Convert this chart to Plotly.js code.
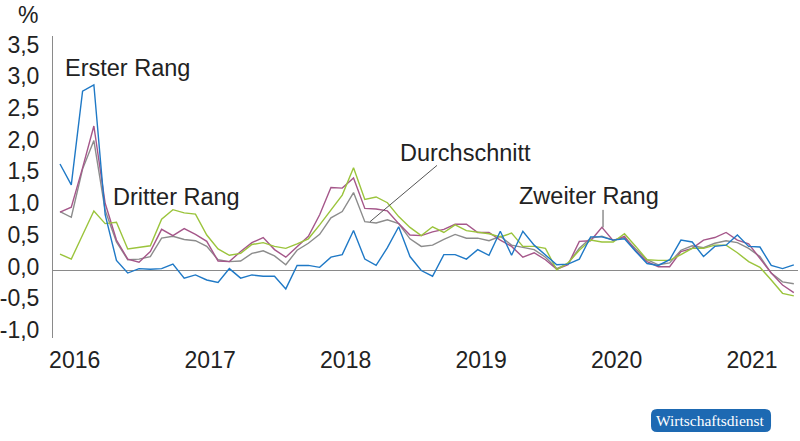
<!DOCTYPE html>
<html>
<head>
<meta charset="utf-8">
<script src="https://cdn.plot.ly/plotly-3.0.1.min.js"></script>
<style>
  html, body { margin: 0; padding: 0; background: #fff; }
  #plot { width: 800px; height: 441px; }
</style>
</head>
<body>
<div id="plot"></div>
<script>
// monthly values, Jan 2016 .. Jun 2021, in %
var monthIndex = [];
for (var i = 0; i < 66; i++) monthIndex.push(i);

var ersterRang = [1.68, 1.35, 2.83, 2.93, 0.88, 0.16, -0.04, 0.03, 0.02, 0.03, 0.10, -0.12,
  -0.07, -0.15, -0.19, 0.03, -0.12, -0.07, -0.09, -0.09, -0.29, 0.08, 0.08, 0.05,
  0.21, 0.25, 0.63, 0.18, 0.08, 0.36, 0.69, 0.22, 0.00, -0.09, 0.25, 0.25,
  0.18, 0.33, 0.24, 0.62, 0.24, 0.62, 0.40, 0.24, 0.09, 0.10, 0.18, 0.53,
  0.53, 0.48, 0.50, 0.30, 0.11, 0.08, 0.17, 0.48, 0.45, 0.22, 0.38, 0.40,
  0.56, 0.38, 0.37, 0.08, 0.03, 0.09];

var zweiterRang = [0.92, 1.00, 1.62, 2.28, 1.06, 0.48, 0.18, 0.13, 0.30, 0.65, 0.55, 0.66,
  0.57, 0.46, 0.15, 0.14, 0.30, 0.44, 0.52, 0.33, 0.21, 0.37, 0.54, 0.88,
  1.31, 1.30, 1.46, 0.98, 0.97, 0.94, 0.74, 0.56, 0.55, 0.61, 0.65, 0.73,
  0.73, 0.60, 0.60, 0.48, 0.38, 0.21, 0.28, 0.17, 0.02, 0.09, 0.46, 0.47,
  0.68, 0.47, 0.54, 0.31, 0.14, 0.06, 0.06, 0.30, 0.35, 0.48, 0.52, 0.60,
  0.48, 0.42, 0.19, -0.04, -0.23, -0.35];

var dritterRang = [0.26, 0.18, 0.56, 0.94, 0.74, 0.76, 0.34, 0.37, 0.39, 0.81, 0.96, 0.91,
  0.89, 0.56, 0.34, 0.24, 0.27, 0.41, 0.44, 0.38, 0.35, 0.42, 0.50, 0.72,
  0.96, 1.19, 1.62, 1.12, 1.16, 1.07, 0.85, 0.68, 0.55, 0.69, 0.60, 0.72,
  0.63, 0.61, 0.58, 0.53, 0.59, 0.38, 0.38, 0.35, 0.01, 0.12, 0.32, 0.48,
  0.45, 0.45, 0.58, 0.38, 0.17, 0.16, 0.16, 0.25, 0.35, 0.35, 0.40, 0.40,
  0.28, 0.14, 0.05, -0.15, -0.36, -0.40];

var durchschnitt = [0.93, 0.84, 1.60, 2.05, 0.95, 0.45, 0.17, 0.18, 0.22, 0.51, 0.54, 0.49,
  0.47, 0.38, 0.17, 0.14, 0.15, 0.27, 0.31, 0.23, 0.09, 0.32, 0.43, 0.57,
  0.83, 0.93, 1.23, 0.77, 0.75, 0.80, 0.74, 0.50, 0.38, 0.40, 0.49, 0.57,
  0.51, 0.51, 0.47, 0.54, 0.40, 0.36, 0.33, 0.21, 0.03, 0.11, 0.35, 0.51,
  0.54, 0.48, 0.52, 0.34, 0.17, 0.09, 0.12, 0.32, 0.39, 0.36, 0.43, 0.47,
  0.44, 0.35, 0.22, -0.04, -0.18, -0.21];

var yearTickVals = [1.3, 13.3, 25.3, 37.3, 49.3, 61.3];
var yearTickText = ['2016', '2017', '2018', '2019', '2020', '2021'];
var yTickVals = [-1, -0.5, 0, 0.5, 1, 1.5, 2, 2.5, 3, 3.5];
var yTickText = ['-1,0', '-0,5', '0,0', '0,5', '1,0', '1,5', '2,0', '2,5', '3,0', '3,5'];

var FONT = 'Liberation Sans, Arial, Helvetica, sans-serif';
var TXT = '#222222';

function series(y, color, name) {
  return {
    x: monthIndex,
    y: y,
    type: 'scatter',
    mode: 'lines',
    name: name,
    line: {color: color, width: 1.4},
    hoverinfo: 'skip'
  };
}

var data = [
  series(durchschnitt, '#8c8c8c', 'Durchschnitt'),
  series(zweiterRang, '#a5578a', 'Zweiter Rang'),
  series(dritterRang, '#9bc43c', 'Dritter Rang'),
  series(ersterRang, '#1f79c6', 'Erster Rang')
];

function label(text, x, y) {
  return {text: text, x: x, y: y, xref: 'x', yref: 'y', xanchor: 'left', yanchor: 'middle',
    showarrow: false, font: {family: FONT, size: 23.5, color: TXT}};
}

function pointer(x, y, ax, ay) {
  return {text: ' ', x: x, y: y, xref: 'x', yref: 'y', ax: ax, ay: ay,
    showarrow: true, arrowhead: 0, arrowwidth: 1, arrowcolor: '#555555',
    standoff: 0, startstandoff: 0, font: {size: 2}};
}

var layout = {
  width: 800,
  height: 441,
  margin: {l: 53, r: 2, t: 36, b: 103},
  paper_bgcolor: '#ffffff',
  plot_bgcolor: '#ffffff',
  showlegend: false,
  separators: ',.',
  font: {family: FONT, color: TXT},
  xaxis: {
    range: [-0.62, 65.37],
    showgrid: false,
    zeroline: false,
    showline: false,
    ticks: '',
    tickmode: 'array',
    tickvals: yearTickVals,
    ticktext: yearTickText,
    tickfont: {family: FONT, size: 23, color: TXT},
    ticklabelstandoff: 6,
    fixedrange: true
  },
  yaxis: {
    range: [-1.065, 3.70],
    showgrid: false,
    zeroline: true,
    zerolinecolor: '#8a8a8a',
    zerolinewidth: 1,
    showline: true,
    linecolor: '#8a8a8a',
    linewidth: 1,
    ticks: '',
    tickmode: 'array',
    tickvals: yTickVals,
    ticktext: yTickText,
    tickfont: {family: FONT, size: 23, color: TXT},
    ticklabelstandoff: 8,
    ticklabelshift: -4,
    fixedrange: true
  },
  shapes: [
    // rounded badge background
    {type: 'path', xref: 'paper', yref: 'paper', layer: 'below',
      path: 'M 0.8108,-0.2351 L 0.9557,-0.2351 Q 0.9638,-0.2351 0.9638,-0.2550 L 0.9638,-0.2914 ' +
            'Q 0.9638,-0.3113 0.9557,-0.3113 L 0.8108,-0.3113 Q 0.8027,-0.3113 0.8027,-0.2914 ' +
            'L 0.8027,-0.2550 Q 0.8027,-0.2351 0.8108,-0.2351 Z',
      fillcolor: '#1d69b2', line: {width: 0}}
  ],
  annotations: [
    {text: '%', xref: 'paper', yref: 'paper', x: -0.034, y: 1.07, xanchor: 'center', yanchor: 'middle',
      showarrow: false, font: {family: FONT, size: 23, color: TXT}},
    label('Erster Rang', 0.25, 3.19),
    label('Dritter Rang', 4.55, 1.16),
    label('Durchschnitt', 29.95, 1.85),
    label('Zweiter Rang', 40.45, 1.175),
    pointer(27.46, 0.77, 69, -58),
    pointer(48.1, 0.68, 0, -20),
    {text: 'Wirtschaftsdienst', xref: 'paper', yref: 'paper', x: 0.8832, y: -0.273,
      xanchor: 'center', yanchor: 'middle', showarrow: false,
      font: {family: 'Liberation Serif, DejaVu Serif, serif', size: 15.5, color: '#ffffff'}}
  ]
};

Plotly.newPlot('plot', data, layout, {staticPlot: true, displayModeBar: false});
</script>
</body>
</html>
